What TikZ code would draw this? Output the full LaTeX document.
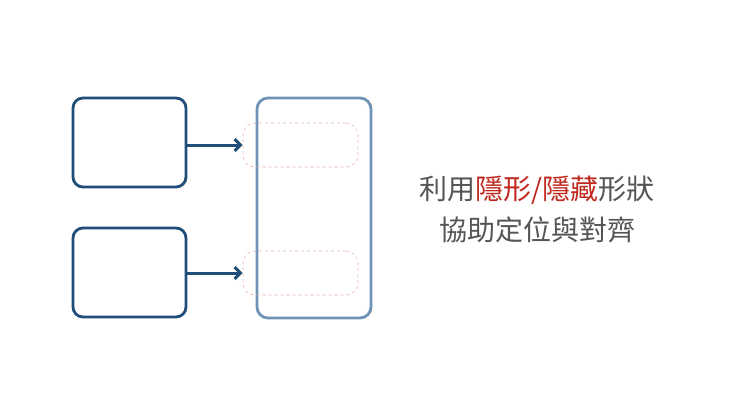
\documentclass[tikz,border=0pt]{standalone}
\usepackage{fontspec}
\newfontfamily\cjk{Noto Sans CJK TC}
\usetikzlibrary{arrows.meta}
\definecolor{dblue}{HTML}{1F4E79}
\definecolor{lblue}{HTML}{6F93B5}
\definecolor{txtgray}{HTML}{555555}
\definecolor{hred}{HTML}{C0281E}
\tikzset{
  srcbox/.style={draw=dblue,line width=2.8pt,rounded corners=10pt},
  bigbox/.style={draw=lblue,line width=2.8pt,rounded corners=11pt},
  ghost/.style={draw=hred!35,dashed,line width=0.6pt,rounded corners=12pt},
  conn/.style={draw=dblue,line width=3pt,-{Straight Barb[length=6pt,width=12pt,line width=3pt]}},
}
\begin{document}
\begin{tikzpicture}[x=1pt,y=-1pt]
\useasboundingbox (0,0) rectangle (740,416);
\fill[white] (0,0) rectangle (740,416);
\draw[srcbox] (73,98) rectangle (186,187);
\draw[srcbox] (73,228) rectangle (186,317);
\draw[bigbox] (257,98) rectangle (371,318);
\node[ghost,minimum width=115pt,minimum height=44pt,inner sep=0pt] (g1) at (300.5,145) {};
\node[ghost,minimum width=115pt,minimum height=44pt,inner sep=0pt] (g2) at (300.5,273) {};
\coordinate (s1) at (186,145);
\coordinate (s2) at (186,273);
\draw[conn] (s1) -- (g1.west);
\draw[conn] (s2) -- (g2.west);
\node[font=\cjk\fontsize{28}{33}\selectfont,text=txtgray,align=center] (t) at (537,209)
 {利用{\color{hred}隱形/隱藏}形狀\\[8pt]協助定位與對齊};
\end{tikzpicture}
\end{document}
